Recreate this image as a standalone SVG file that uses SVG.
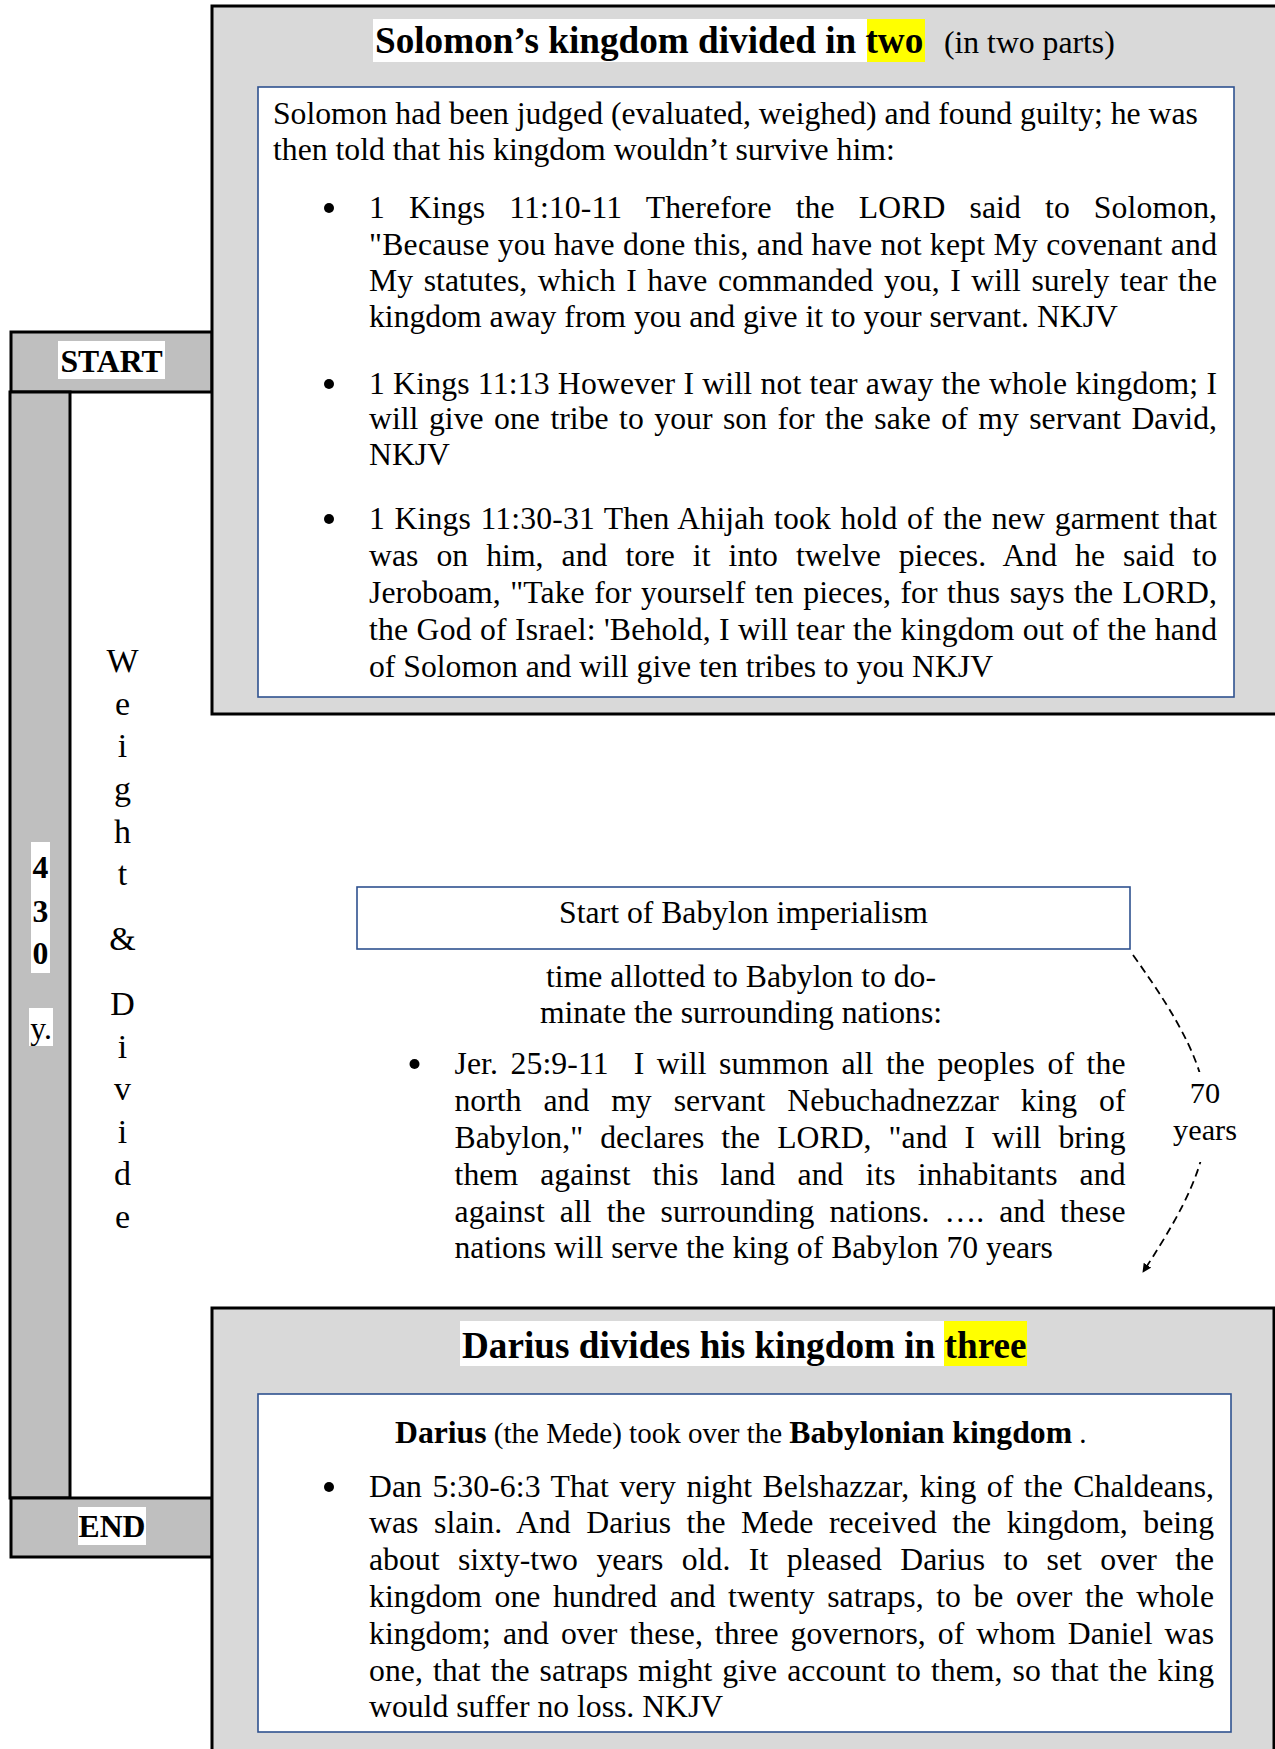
<svg xmlns="http://www.w3.org/2000/svg" width="1275" height="1749" viewBox="0 0 1275 1749">
<defs>
<style>
.t{font-family:"Liberation Serif","Times New Roman",serif;font-size:31.7px;fill:#000}
.b{font-weight:bold}
.h{font-size:37.2px;font-weight:bold}
.c{text-anchor:middle}
.outer{fill:#d9d9d9;stroke:#000;stroke-width:3}
.dark{fill:#bfbfbf;stroke:#000;stroke-width:3}
.inner{fill:#fff;stroke:#2f528f;stroke-width:1.6}
.wbg{fill:#fff}
.ybg{fill:#ffff00}
.dash{fill:none;stroke:#000;stroke-width:1.8;stroke-dasharray:8 5}
</style>
<marker id="arr" viewBox="0 0 10 10" refX="9" refY="5" markerWidth="9" markerHeight="9" markerUnits="userSpaceOnUse" orient="auto">
<path d="M0,0 L10,5 L0,10 z" fill="#000"/>
</marker>
</defs>
<rect width="1275" height="1749" fill="#fff"/>

<g id="node-start">
<rect class="dark" x="11" y="332" width="201" height="60"/>
<rect class="wbg" x="58" y="341" width="107" height="38"/>
<text class="t b c" x="111.5" y="372">START</text>
</g>

<g id="node-bar">
<rect class="dark" x="10" y="392" width="60" height="1106"/>
<rect class="wbg" x="31" y="842" width="19" height="131"/>
<text class="t b c" x="40.5" y="878">4</text>
<text class="t b c" x="40.5" y="922">3</text>
<text class="t b c" x="40.5" y="964">0</text>
<rect class="wbg" x="29" y="1008" width="24" height="38"/>
<text class="t c" x="41" y="1039">y.</text>
</g>

<g id="node-label-weight" class="t c" style="font-size:34px">
<text class="t c" style="font-size:34px" x="122.5" y="672">W</text>
<text class="t c" style="font-size:34px" x="122.5" y="714.5">e</text>
<text class="t c" style="font-size:34px" x="122.5" y="757">i</text>
<text class="t c" style="font-size:34px" x="122.5" y="800">g</text>
<text class="t c" style="font-size:34px" x="122.5" y="842.5">h</text>
<text class="t c" style="font-size:34px" x="122.5" y="885">t</text>
<text class="t c" style="font-size:34px" x="122.5" y="950">&amp;</text>
<text class="t c" style="font-size:34px" x="122.5" y="1015">D</text>
<text class="t c" style="font-size:34px" x="122.5" y="1057.5">i</text>
<text class="t c" style="font-size:34px" x="122.5" y="1100">v</text>
<text class="t c" style="font-size:34px" x="122.5" y="1142.5">i</text>
<text class="t c" style="font-size:34px" x="122.5" y="1185">d</text>
<text class="t c" style="font-size:34px" x="122.5" y="1228">e</text>
</g>

<g id="node-end">
<rect class="dark" x="11" y="1498" width="201" height="59"/>
<rect class="wbg" x="78" y="1507" width="68" height="38"/>
<text class="t b c" x="112" y="1537">END</text>
</g>

<g id="node-solomon">
<rect class="outer" x="212" y="6" width="1080" height="708"/>
<rect class="wbg" x="373" y="19" width="494" height="43"/>
<rect class="ybg" x="867" y="19" width="58" height="43"/>
<text class="t h" x="375" y="53">Solomon’s kingdom divided in two</text>
<text class="t" x="944" y="53">(in two parts)</text>
<rect class="inner" x="258" y="87" width="976" height="610"/>
<text class="t" x="273" y="124">Solomon had been judged (evaluated, weighed) and found guilty; he was</text>
<text class="t" x="273" y="160">then told that his kingdom wouldn’t survive him:</text>
<circle cx="329" cy="208" r="5"/>
<text class="t" x="369" y="218" textLength="848" lengthAdjust="spacing" style="word-spacing:16px">1 Kings 11:10-11 Therefore the LORD said to Solomon,</text>
<text class="t" x="369" y="255" textLength="848" lengthAdjust="spacing">"Because you have done this, and have not kept My covenant and</text>
<text class="t" x="369" y="291" textLength="848" lengthAdjust="spacing" style="word-spacing:2.5px">My statutes, which I have commanded you, I will surely tear the</text>
<text class="t" x="369" y="327">kingdom away from you and give it to your servant. NKJV</text>
<circle cx="329" cy="384" r="5"/>
<text class="t" x="369" y="394" textLength="848" lengthAdjust="spacing">1 Kings 11:13 However I will not tear away the whole kingdom; I</text>
<text class="t" x="369" y="429" textLength="848" lengthAdjust="spacing" style="word-spacing:2.5px">will give one tribe to your son for the sake of my servant David,</text>
<text class="t" x="369" y="465">NKJV</text>
<circle cx="329" cy="519" r="5"/>
<text class="t" x="369" y="529" textLength="848" lengthAdjust="spacing" style="word-spacing:1.5px">1 Kings 11:30-31 Then Ahijah took hold of the new garment that</text>
<text class="t" x="369" y="566" textLength="848" lengthAdjust="spacing" style="word-spacing:10px">was on him, and tore it into twelve pieces. And he said to</text>
<text class="t" x="369" y="603" textLength="848" lengthAdjust="spacing" style="word-spacing:1.5px">Jeroboam, "Take for yourself ten pieces, for thus says the LORD,</text>
<text class="t" x="369" y="640" textLength="848" lengthAdjust="spacing">the God of Israel: 'Behold, I will tear the kingdom out of the hand</text>
<text class="t" x="369" y="677">of Solomon and will give ten tribes to you NKJV</text>
</g>

<g id="node-babylon">
<rect class="inner" x="357" y="887" width="773" height="62"/>
<text class="t c" x="743.5" y="923">Start of Babylon imperialism</text>
</g>

<g id="node-jeremiah">
<text class="t c" x="741" y="987">time allotted to Babylon to do-</text>
<text class="t c" x="741" y="1023">minate the surrounding nations:</text>
<circle cx="414.5" cy="1064" r="5"/>
<text class="t" x="454.5" y="1074" textLength="671" lengthAdjust="spacing" style="word-spacing:4.5px">Jer. 25:9-11 &#160;I will summon all the peoples of the</text>
<text class="t" x="454.5" y="1111" textLength="671" lengthAdjust="spacing" style="word-spacing:14px">north and my servant Nebuchadnezzar king of</text>
<text class="t" x="454.5" y="1148" textLength="671" lengthAdjust="spacing" style="word-spacing:9px">Babylon," declares the LORD, "and I will bring</text>
<text class="t" x="454.5" y="1185" textLength="671" lengthAdjust="spacing" style="word-spacing:14px">them against this land and its inhabitants and</text>
<text class="t" x="454.5" y="1222" textLength="671" lengthAdjust="spacing" style="word-spacing:7px">against all the surrounding nations. …. and these</text>
<text class="t" x="454.5" y="1258">nations will serve the king of Babylon 70 years</text>
</g>

<g id="connectors">
<path class="dash" d="M1133,955 C1230,1090 1230,1140 1143,1272" marker-end="url(#arr)"/>
</g>

<g id="label-70">
<rect class="wbg" x="1168" y="1072" width="76" height="90"/>
<text class="t c" style="font-size:30.3px" x="1205" y="1103">70</text>
<text class="t c" style="font-size:30.3px" x="1205" y="1140">years</text>
</g>

<g id="node-darius">
<rect class="outer" x="212" y="1308" width="1062" height="460"/>
<rect class="wbg" x="460" y="1321" width="484" height="45"/>
<rect class="ybg" x="944" y="1321" width="83" height="45"/>
<text class="t h" x="462" y="1358">Darius divides his kingdom in three</text>
<rect class="inner" x="258" y="1394" width="973" height="338"/>
<text class="t" x="395" y="1443" style="font-size:29px"><tspan class="b" style="font-size:31.7px">Darius</tspan> (the Mede) took over the <tspan class="b" style="font-size:31.7px">Babylonian kingdom</tspan> .</text>
<circle cx="329" cy="1487" r="5"/>
<text class="t" x="369" y="1497" textLength="845" lengthAdjust="spacing" style="word-spacing:2.5px">Dan 5:30-6:3 That very night Belshazzar, king of the Chaldeans,</text>
<text class="t" x="369" y="1533" textLength="845" lengthAdjust="spacing" style="word-spacing:7.5px">was slain. And Darius the Mede received the kingdom, being</text>
<text class="t" x="369" y="1570" textLength="845" lengthAdjust="spacing" style="word-spacing:10.5px">about sixty-two years old. It pleased Darius to set over the</text>
<text class="t" x="369" y="1607" textLength="845" lengthAdjust="spacing" style="word-spacing:4.5px">kingdom one hundred and twenty satraps, to be over the whole</text>
<text class="t" x="369" y="1644" textLength="845" lengthAdjust="spacing" style="word-spacing:4px">kingdom; and over these, three governors, of whom Daniel was</text>
<text class="t" x="369" y="1681" textLength="845" lengthAdjust="spacing" style="word-spacing:2px">one, that the satraps might give account to them, so that the king</text>
<text class="t" x="369" y="1717">would suffer no loss. NKJV</text>
</g>
</svg>
